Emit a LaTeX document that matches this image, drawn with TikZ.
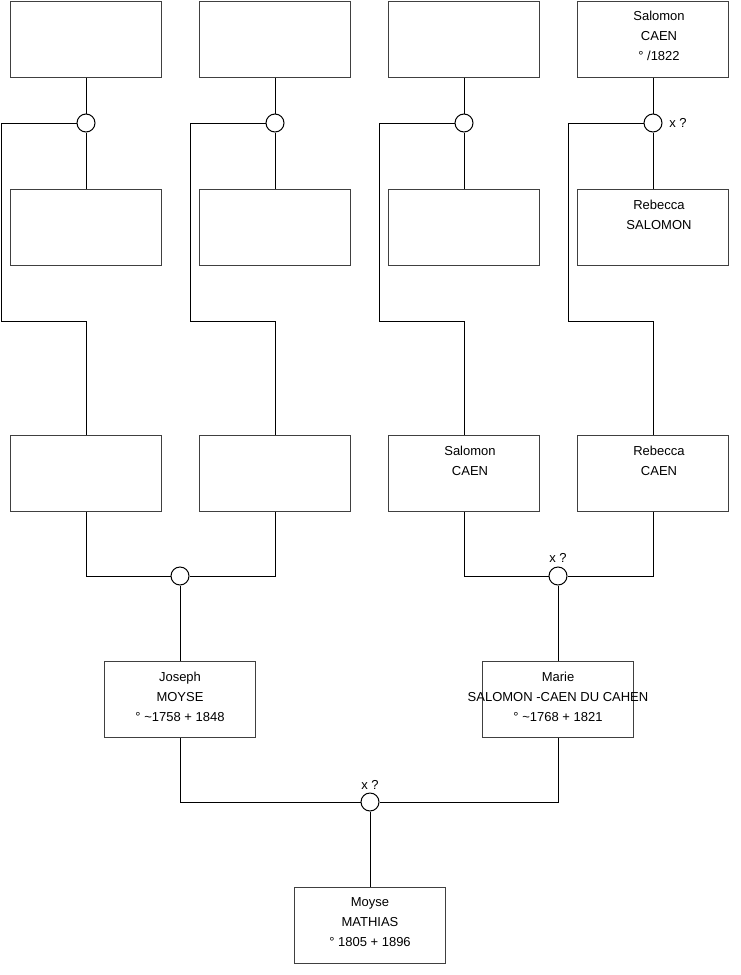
\documentclass[tikz,border=0pt]{standalone}
\usepackage{fontspec}
\setmainfont{Liberation Sans}
\begin{document}
\begin{tikzpicture}[x=1pt,y=-1pt,
  box/.style={draw=black!75,line width=1.1pt,fill=white,minimum width=151pt,minimum height=76pt,anchor=north,inner sep=0pt},
  txt/.style={anchor=north,inner sep=0pt,align=center,font=\fontsize{13}{20}\selectfont},
  ring/.style={draw=black,line width=1pt,circle,minimum size=18pt,inner sep=0pt,fill=white},
  lbl/.style={inner sep=0pt,font=\fontsize{13}{16}\selectfont},
  ln/.style={draw=black,line width=1pt}]
\useasboundingbox (0,0) rectangle (740,975);
% top row
\node[box] (a1) at (86,0.5) {};
\node[box] (a2) at (275,0.5) {};
\node[box] (a3) at (464,0.5) {};
\node[box] (a4) at (653,0.5) {};
\node[txt] (a4t) at ([xshift=6pt,yshift=-10.5pt]a4.north) {Salomon\\CAEN\\° /1822};
% second row
\node[box] (b1) at (86,189) {};
\node[box] (b2) at (275,189) {};
\node[box] (b3) at (464,189) {};
\node[box] (b4) at (653,189) {};
\node[txt] (b4t) at ([xshift=6pt,yshift=-10.5pt]b4.north) {Rebecca\\SALOMON};
% third row
\node[box] (d1) at (86,435) {};
\node[box] (d2) at (275,435) {};
\node[box] (d3) at (464,435) {};
\node[box] (d4) at (653,435) {};
\node[txt] (d3t) at ([xshift=6pt,yshift=-10.5pt]d3.north) {Salomon\\CAEN};
\node[txt] (d4t) at ([xshift=6pt,yshift=-10.5pt]d4.north) {Rebecca\\CAEN};
% parents
\node[box] (j) at (180,661) {};
\node[txt] (jt) at ([yshift=-10.5pt]j.north) {Joseph\\MOYSE\\° \textasciitilde1758 + 1848};
\node[box] (m) at (558,661) {};
\node[txt] (mt) at ([yshift=-10.5pt]m.north) {Marie\\SALOMON -CAEN DU CAHEN\\° \textasciitilde1768 + 1821};
% child
\node[box] (c) at (370,887) {};
\node[txt] (ct) at ([yshift=-10.5pt]c.north) {Moyse\\MATHIAS\\° 1805 + 1896};
% union rings
\node[ring] (r1) at (86,123) {};
\node[ring] (r2) at (275,123) {};
\node[ring] (r3) at (464,123) {};
\node[ring] (r4) at (653,123) {};
\node[ring] (r5) at (180,576) {};
\node[ring] (r6) at (558,576) {};
\node[ring] (r7) at (370,802) {};
\node[lbl] (l4) at (678,123) {x ?};
\node[lbl] (l6) at (558,558) {x ?};
\node[lbl] (l7) at (370,785) {x ?};
% corner coordinates
\coordinate (k1) at (1,321);
\coordinate (k2) at (190,321);
\coordinate (k3) at (379,321);
\coordinate (k4) at (568,321);
% connectors top
\foreach \i in {1,2,3,4}{
  \draw[ln] (a\i.south) -- (r\i.north);
  \draw[ln] (r\i.south) -- (b\i.north);
  \draw[ln] (r\i.west) -| (k\i) -| (d\i.north);
}
\draw[ln] (d1.south) |- (r5.west);
\draw[ln] (d2.south) |- (r5.east);
\draw[ln] (d3.south) |- (r6.west);
\draw[ln] (d4.south) |- (r6.east);
\draw[ln] (r5.south) -- (j.north);
\draw[ln] (r6.south) -- (m.north);
\draw[ln] (j.south) |- (r7.west);
\draw[ln] (m.south) |- (r7.east);
\draw[ln] (r7.south) -- (c.north);
\end{tikzpicture}
\end{document}
